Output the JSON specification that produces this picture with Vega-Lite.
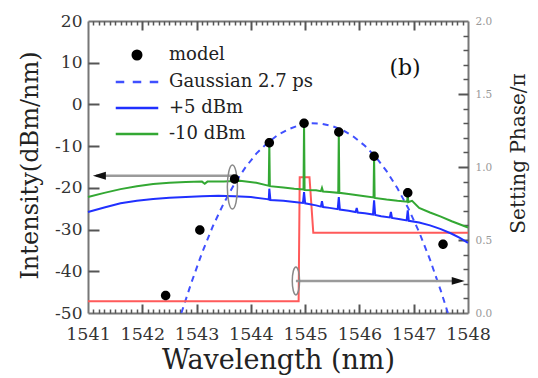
{
  "$schema": "https://vega.github.io/schema/vega-lite/v6.json",
  "width": 380,
  "height": 292,
  "autosize": {"type": "none"},
  "padding": {"left": 88, "top": 21, "right": 70, "bottom": 65},
  "background": "white",
  "config": {
    "view": {"stroke": null},
    "font": "DejaVu Serif",
    "axis": {
      "grid": false,
      "domainColor": "#777",
      "domainWidth": 2,
      "labelFont": "DejaVu Serif",
      "titleFont": "DejaVu Serif",
      "titleFontWeight": "normal",
      "labelColor": "#333",
      "titleColor": "#222",
      "labelFlush": false,
      "labelOverlap": false
    },
    "legend": {
      "labelFont": "DejaVu Serif",
      "labelFontSize": 18,
      "labelColor": "#222"
    }
  },
  "datasets": {
    "model": [
      {"wl": 1542.43, "dbm": -45.8},
      {"wl": 1543.06, "dbm": -30.1},
      {"wl": 1543.70, "dbm": -17.9},
      {"wl": 1544.34, "dbm": -9.2},
      {"wl": 1544.98, "dbm": -4.5},
      {"wl": 1545.62, "dbm": -6.6},
      {"wl": 1546.27, "dbm": -12.4},
      {"wl": 1546.89, "dbm": -21.2},
      {"wl": 1547.54, "dbm": -33.5}
    ],
    "gauss": [
      {"wl": 1542.72, "dbm": -50},
      {"wl": 1542.9, "dbm": -42.9},
      {"wl": 1543.1, "dbm": -35.6},
      {"wl": 1543.3, "dbm": -29.2},
      {"wl": 1543.5, "dbm": -23.7},
      {"wl": 1543.7, "dbm": -19.0},
      {"wl": 1543.9, "dbm": -15.1},
      {"wl": 1544.1, "dbm": -11.8},
      {"wl": 1544.3, "dbm": -9.3},
      {"wl": 1544.5, "dbm": -7.3},
      {"wl": 1544.7, "dbm": -5.9},
      {"wl": 1544.9, "dbm": -4.95},
      {"wl": 1545.1, "dbm": -4.53},
      {"wl": 1545.3, "dbm": -4.6},
      {"wl": 1545.5, "dbm": -5.2},
      {"wl": 1545.7, "dbm": -6.2},
      {"wl": 1545.9, "dbm": -7.8},
      {"wl": 1546.1, "dbm": -9.9},
      {"wl": 1546.3, "dbm": -12.6},
      {"wl": 1546.5, "dbm": -16.0},
      {"wl": 1546.7, "dbm": -20.1},
      {"wl": 1546.9, "dbm": -24.9},
      {"wl": 1547.1, "dbm": -30.6},
      {"wl": 1547.3, "dbm": -37.2},
      {"wl": 1547.5, "dbm": -44.7},
      {"wl": 1547.63, "dbm": -50}
    ],
    "plus5": [
      {"wl": 1541.0, "dbm": -25.8},
      {"wl": 1541.3, "dbm": -24.7},
      {"wl": 1541.6, "dbm": -23.7},
      {"wl": 1541.9, "dbm": -23.1},
      {"wl": 1542.2, "dbm": -22.7},
      {"wl": 1542.5, "dbm": -22.4},
      {"wl": 1542.8, "dbm": -22.2},
      {"wl": 1543.1, "dbm": -22.0},
      {"wl": 1543.4, "dbm": -21.9},
      {"wl": 1543.7, "dbm": -22.0},
      {"wl": 1544.0, "dbm": -22.2},
      {"wl": 1544.3, "dbm": -22.7},
      {"wl": 1544.33, "dbm": -22.8},
      {"wl": 1544.34, "dbm": -20.2},
      {"wl": 1544.36, "dbm": -22.9},
      {"wl": 1544.6, "dbm": -23.1},
      {"wl": 1544.8, "dbm": -23.4},
      {"wl": 1544.96, "dbm": -23.6},
      {"wl": 1544.98, "dbm": -21.0},
      {"wl": 1545.0, "dbm": -23.7},
      {"wl": 1545.2, "dbm": -24.2},
      {"wl": 1545.29, "dbm": -24.5},
      {"wl": 1545.31, "dbm": -23.2},
      {"wl": 1545.33, "dbm": -24.6},
      {"wl": 1545.45, "dbm": -24.8},
      {"wl": 1545.60, "dbm": -25.1},
      {"wl": 1545.62, "dbm": -22.2},
      {"wl": 1545.64, "dbm": -25.2},
      {"wl": 1545.8, "dbm": -25.5},
      {"wl": 1545.93, "dbm": -25.8},
      {"wl": 1545.95, "dbm": -24.8},
      {"wl": 1545.97, "dbm": -25.9},
      {"wl": 1546.1, "dbm": -26.1},
      {"wl": 1546.25, "dbm": -26.4},
      {"wl": 1546.27, "dbm": -23.0},
      {"wl": 1546.29, "dbm": -26.5},
      {"wl": 1546.4, "dbm": -26.8},
      {"wl": 1546.56, "dbm": -27.1},
      {"wl": 1546.58, "dbm": -25.8},
      {"wl": 1546.60, "dbm": -27.2},
      {"wl": 1546.75, "dbm": -27.5},
      {"wl": 1546.87, "dbm": -27.8},
      {"wl": 1546.89, "dbm": -25.4},
      {"wl": 1546.91, "dbm": -27.9},
      {"wl": 1547.1, "dbm": -28.3},
      {"wl": 1547.3, "dbm": -29.0},
      {"wl": 1547.5, "dbm": -29.9},
      {"wl": 1547.7, "dbm": -31.0},
      {"wl": 1547.85, "dbm": -32.0},
      {"wl": 1548.0, "dbm": -33.2}
    ],
    "minus10": [
      {"wl": 1541.0, "dbm": -22.2},
      {"wl": 1541.3, "dbm": -21.2},
      {"wl": 1541.6, "dbm": -20.3},
      {"wl": 1541.9, "dbm": -19.6},
      {"wl": 1542.2, "dbm": -19.1},
      {"wl": 1542.5, "dbm": -18.8},
      {"wl": 1542.8, "dbm": -18.6},
      {"wl": 1543.1, "dbm": -18.5},
      {"wl": 1543.15, "dbm": -19.0},
      {"wl": 1543.2, "dbm": -18.5},
      {"wl": 1543.5, "dbm": -18.5},
      {"wl": 1543.8, "dbm": -18.3},
      {"wl": 1544.1, "dbm": -18.8},
      {"wl": 1544.3, "dbm": -19.4},
      {"wl": 1544.33, "dbm": -19.5},
      {"wl": 1544.34, "dbm": -9.2},
      {"wl": 1544.35, "dbm": -19.6},
      {"wl": 1544.6, "dbm": -19.9},
      {"wl": 1544.8, "dbm": -20.2},
      {"wl": 1544.97, "dbm": -20.4},
      {"wl": 1544.98, "dbm": -4.5},
      {"wl": 1544.99, "dbm": -20.5},
      {"wl": 1545.2, "dbm": -20.6},
      {"wl": 1545.29, "dbm": -20.8},
      {"wl": 1545.31, "dbm": -20.0},
      {"wl": 1545.33, "dbm": -20.9},
      {"wl": 1545.45, "dbm": -21.0},
      {"wl": 1545.61, "dbm": -21.2},
      {"wl": 1545.62, "dbm": -6.6},
      {"wl": 1545.63, "dbm": -21.2},
      {"wl": 1545.8, "dbm": -21.5},
      {"wl": 1546.1, "dbm": -22.0},
      {"wl": 1546.26, "dbm": -22.3},
      {"wl": 1546.27, "dbm": -12.4},
      {"wl": 1546.28, "dbm": -22.4},
      {"wl": 1546.5, "dbm": -22.8},
      {"wl": 1546.7, "dbm": -23.1},
      {"wl": 1546.88, "dbm": -23.3},
      {"wl": 1546.89, "dbm": -21.2},
      {"wl": 1546.90, "dbm": -23.4},
      {"wl": 1546.97, "dbm": -23.1},
      {"wl": 1547.1, "dbm": -24.8},
      {"wl": 1547.3, "dbm": -25.9},
      {"wl": 1547.5, "dbm": -26.9},
      {"wl": 1547.7, "dbm": -28.0},
      {"wl": 1548.0, "dbm": -29.5}
    ],
    "phase": [
      {"wl": 1541.0, "phase": 0.08},
      {"wl": 1544.88, "phase": 0.08},
      {"wl": 1544.9, "phase": 0.93},
      {"wl": 1545.08, "phase": 0.93},
      {"wl": 1545.15, "phase": 0.55},
      {"wl": 1548.0, "phase": 0.55}
    ],
    "arrowL": [
      {"wl": 1541.15, "dbm": -17.1},
      {"wl": 1543.66, "dbm": -17.1}
    ],
    "headL": [{"wl": 1541.21, "dbm": -17.1}],
    "ellL": [{"wl": 1543.66, "dbm": -19.8}],
    "arrowR": [
      {"wl": 1544.83, "phase": 0.22},
      {"wl": 1547.8, "phase": 0.22}
    ],
    "headR": [{"wl": 1547.82, "phase": 0.22}],
    "ellR": [{"wl": 1544.83, "phase": 0.22}],
    "tag": [{"wl": 1546.84, "dbm": 8.8, "text": "(b)"}]
  },
  "layer": [
    {
      "data": {"name": "gauss"},
      "mark": {"type": "line", "color": "#4050ff", "strokeWidth": 2, "strokeDash": [6, 5]},
      "encoding": {
        "x": {
          "field": "wl", "type": "quantitative",
          "scale": {"domain": [1541, 1548], "nice": false, "zero": false},
          "axis": {
            "orient": "bottom",
            "values": [1541, 1542, 1543, 1544, 1545, 1546, 1547, 1548],
            "format": "d",
            "ticks": false,
            "labelPadding": 12,
            "labelFontSize": 17.5,
            "title": "Wavelength (nm)",
            "titleFontSize": 27,
            "titleX": 190,
            "titleY": 55,
            "titleAlign": "center",
            "titleBaseline": "alphabetic"
          }
        },
        "y": {
          "field": "dbm", "type": "quantitative",
          "scale": {"domain": [-50, 20], "nice": false, "zero": false},
          "axis": {
            "orient": "left",
            "values": [-50, -40, -30, -20, -10, 0, 10, 20],
            "labelExpr": "replace(datum.label, '−', '-')",
            "ticks": false,
            "labelPadding": 6,
            "labelFontSize": 17,
            "title": "Intensity(dBm/nm)",
            "titleFontSize": 24,
            "titleAngle": 270,
            "titleX": -58,
            "titleY": 144,
            "titleAlign": "center",
            "titleBaseline": "middle"
          }
        }
      }
    },
    {
      "data": {"name": "phase"},
      "mark": {"type": "line", "color": "#ff5a5a", "strokeWidth": 2},
      "encoding": {
        "x": {
          "field": "wl", "type": "quantitative",
          "scale": {"domain": [1541, 1548], "nice": false, "zero": false},
          "axis": {
            "orient": "top",
            "values": [1541, 1548],
            "ticks": false,
            "labels": false,
            "title": null
          }
        },
        "y": {
          "field": "phase", "type": "quantitative",
          "scale": {"domain": [0, 2], "nice": false, "zero": false},
          "axis": {
            "orient": "right",
            "values": [0, 0.5, 1, 1.5, 2],
            "format": ".1f",
            "ticks": false,
            "labelPadding": 7,
            "labelFontSize": 10.5,
            "labelColor": "#999",
            "title": "Setting Phase/π",
            "titleFontSize": 20,
            "titleAngle": 270,
            "titleX": 50,
            "titleY": 132,
            "titleAlign": "center",
            "titleBaseline": "middle"
          }
        }
      }
    },
    {
      "data": {"name": "minus10"},
      "mark": {"type": "line", "color": "#33a833", "strokeWidth": 2},
      "encoding": {
        "x": {
          "field": "wl", "type": "quantitative",
          "scale": {"domain": [1541, 1548], "nice": false, "zero": false},
          "axis": {
            "orient": "bottom",
            "offset": -9,
            "values": [1542, 1543, 1544, 1545, 1546, 1547],
            "ticks": true,
            "tickSize": 9,
            "tickColor": "#555555",
            "tickWidth": 2,
            "labels": true,
            "labelExpr": "''",
            "domain": false,
            "title": null
          }
        },
        "y": {
          "field": "dbm", "type": "quantitative",
          "scale": {"domain": [-50, 20], "nice": false, "zero": false},
          "axis": {
            "orient": "left",
            "offset": -11,
            "values": [-40, -30, -20, -10, 0, 10],
            "ticks": true,
            "tickSize": 11,
            "tickColor": "#555555",
            "tickWidth": 2,
            "labels": true,
            "labelExpr": "''",
            "domain": false,
            "title": null
          }
        }
      }
    },
    {
      "data": {"name": "plus5"},
      "mark": {"type": "line", "color": "#2030ff", "strokeWidth": 2},
      "encoding": {
        "x": {
          "field": "wl", "type": "quantitative",
          "scale": {"domain": [1541, 1548], "nice": false, "zero": false},
          "axis": {
            "orient": "bottom",
            "offset": -4,
            "values": [1541.1,1541.2,1541.3,1541.4,1541.5,1541.6,1541.7,1541.8,1541.9,1542.1,1542.2,1542.3,1542.4,1542.5,1542.6,1542.7,1542.8,1542.9,1543.1,1543.2,1543.3,1543.4,1543.5,1543.6,1543.7,1543.8,1543.9,1544.1,1544.2,1544.3,1544.4,1544.5,1544.6,1544.7,1544.8,1544.9,1545.1,1545.2,1545.3,1545.4,1545.5,1545.6,1545.7,1545.8,1545.9,1546.1,1546.2,1546.3,1546.4,1546.5,1546.6,1546.7,1546.8,1546.9,1547.1,1547.2,1547.3,1547.4,1547.5,1547.6,1547.7,1547.8,1547.9],
            "ticks": true,
            "tickSize": 4,
            "tickColor": "#555555",
            "tickWidth": 1.5,
            "labels": true,
            "labelExpr": "''",
            "domain": false,
            "title": null
          }
        },
        "y": {
          "field": "dbm", "type": "quantitative",
          "scale": {"domain": [-50, 20], "nice": false, "zero": false},
          "axis": null
        }
      }
    },
    {
      "data": {"name": "arrowL"},
      "mark": {"type": "line", "color": "#9a9a9a", "strokeWidth": 2.5},
      "encoding": {
        "x": {
          "field": "wl", "type": "quantitative",
          "scale": {"domain": [1541, 1548], "nice": false, "zero": false},
          "axis": {
            "orient": "top",
            "offset": -9,
            "values": [1542, 1543, 1544, 1545, 1546, 1547],
            "ticks": true,
            "tickSize": 9,
            "tickColor": "#555555",
            "tickWidth": 2,
            "labels": true,
            "labelExpr": "''",
            "domain": false,
            "title": null
          }
        },
        "y": {"field": "dbm", "type": "quantitative", "scale": {"domain": [-50, 20], "nice": false, "zero": false}, "axis": null}
      }
    },
    {
      "data": {"name": "headL"},
      "mark": {"type": "point", "shape": "M-1,0L1,-0.6L1,0.6Z", "size": 169, "filled": true, "color": "#111", "opacity": 1},
      "encoding": {
        "x": {
          "field": "wl", "type": "quantitative",
          "scale": {"domain": [1541, 1548], "nice": false, "zero": false},
          "axis": {
            "orient": "top",
            "offset": -4,
            "values": [1541.1,1541.2,1541.3,1541.4,1541.5,1541.6,1541.7,1541.8,1541.9,1542.1,1542.2,1542.3,1542.4,1542.5,1542.6,1542.7,1542.8,1542.9,1543.1,1543.2,1543.3,1543.4,1543.5,1543.6,1543.7,1543.8,1543.9,1544.1,1544.2,1544.3,1544.4,1544.5,1544.6,1544.7,1544.8,1544.9,1545.1,1545.2,1545.3,1545.4,1545.5,1545.6,1545.7,1545.8,1545.9,1546.1,1546.2,1546.3,1546.4,1546.5,1546.6,1546.7,1546.8,1546.9,1547.1,1547.2,1547.3,1547.4,1547.5,1547.6,1547.7,1547.8,1547.9],
            "ticks": true,
            "tickSize": 4,
            "tickColor": "#555555",
            "tickWidth": 1.5,
            "labels": true,
            "labelExpr": "''",
            "domain": false,
            "title": null
          }
        },
        "y": {"field": "dbm", "type": "quantitative", "scale": {"domain": [-50, 20], "nice": false, "zero": false}, "axis": null}
      }
    },
    {
      "data": {"name": "ellL"},
      "mark": {"type": "point", "shape": "M0,-1C0.127,-1,0.23,-0.552,0.23,0C0.23,0.552,0.127,1,0,1C-0.127,1,-0.23,0.552,-0.23,0C-0.23,-0.552,-0.127,-1,0,-1Z", "size": 1936, "filled": false, "color": "#888", "strokeWidth": 1.5, "opacity": 1},
      "encoding": {
        "x": {"field": "wl", "type": "quantitative", "scale": {"domain": [1541, 1548], "nice": false, "zero": false}, "axis": null},
        "y": {"field": "dbm", "type": "quantitative", "scale": {"domain": [-50, 20], "nice": false, "zero": false}, "axis": null}
      }
    },
    {
      "data": {"name": "arrowR"},
      "mark": {"type": "line", "color": "#9a9a9a", "strokeWidth": 2.5},
      "encoding": {
        "x": {"field": "wl", "type": "quantitative", "scale": {"domain": [1541, 1548], "nice": false, "zero": false}, "axis": null},
        "y": {
          "field": "phase", "type": "quantitative",
          "scale": {"domain": [0, 2], "nice": false, "zero": false},
          "axis": {
            "orient": "right",
            "offset": -10,
            "values": [0.5, 1, 1.5],
            "ticks": true,
            "tickSize": 10,
            "tickColor": "#555555",
            "tickWidth": 2,
            "labels": true,
            "labelExpr": "''",
            "domain": false,
            "title": null
          }
        }
      }
    },
    {
      "data": {"name": "headR"},
      "mark": {"type": "point", "shape": "M1,0L-1,-0.6L-1,0.6Z", "size": 169, "filled": true, "color": "#111", "opacity": 1},
      "encoding": {
        "x": {"field": "wl", "type": "quantitative", "scale": {"domain": [1541, 1548], "nice": false, "zero": false}, "axis": null},
        "y": {
          "field": "phase", "type": "quantitative",
          "scale": {"domain": [0, 2], "nice": false, "zero": false},
          "axis": {
            "orient": "right",
            "offset": -5,
            "values": [0.1,0.2,0.3,0.4,0.6,0.7,0.8,0.9,1.1,1.2,1.3,1.4,1.6,1.7,1.8,1.9],
            "ticks": true,
            "tickSize": 5,
            "tickColor": "#555555",
            "tickWidth": 1.5,
            "labels": true,
            "labelExpr": "''",
            "domain": false,
            "title": null
          }
        }
      }
    },
    {
      "data": {"name": "ellR"},
      "mark": {"type": "point", "shape": "M0,-1C0.144,-1,0.26,-0.552,0.26,0C0.26,0.552,0.144,1,0,1C-0.144,1,-0.26,0.552,-0.26,0C-0.26,-0.552,-0.144,-1,0,-1Z", "size": 784, "filled": false, "color": "#888", "strokeWidth": 1.5, "opacity": 1},
      "encoding": {
        "x": {"field": "wl", "type": "quantitative", "scale": {"domain": [1541, 1548], "nice": false, "zero": false}, "axis": null},
        "y": {"field": "phase", "type": "quantitative", "scale": {"domain": [0, 2], "nice": false, "zero": false}, "axis": null}
      }
    },
    {
      "data": {"name": "model"},
      "mark": {"type": "point", "size": 360, "filled": true, "opacity": 1},
      "encoding": {
        "x": {"field": "wl", "type": "quantitative", "scale": {"domain": [1541, 1548], "nice": false, "zero": false}, "axis": null},
        "y": {"field": "dbm", "type": "quantitative", "scale": {"domain": [-50, 20], "nice": false, "zero": false}, "axis": null},
        "color": {
          "datum": "model", "type": "nominal",
          "scale": {"domain": ["model", "Gaussian 2.7 ps", "+5 dBm", "-10 dBm"], "range": ["#000000", "#4050ff", "#2030ff", "#33a833"]},
          "legend": {
            "orient": "none",
            "legendX": 39,
            "legendY": 24,
            "title": null,
            "padding": 0,
            "symbolSize": 289,
            "symbolStrokeWidth": 2.5,
            "symbolOpacity": 1,
            "labelOffset": 22,
            "rowPadding": 7,
            "labelFont": "DejaVu Serif",
            "labelFontSize": 18,
            "labelColor": "#222",
            "encode": {
              "symbols": {
                "update": {
                  "fill": {"scale": "color", "field": "value"},
                  "stroke": {"scale": "color", "field": "value"},
                  "strokeWidth": {"value": 2.5},
                  "opacity": {"value": 1}
                }
              }
            }
          }
        },
        "shape": {
          "datum": "model", "type": "nominal",
          "scale": {"domain": ["model", "Gaussian 2.7 ps", "+5 dBm", "-10 dBm"], "range": ["M0,-0.5C0.276,-0.5,0.5,-0.276,0.5,0C0.5,0.276,0.276,0.5,0,0.5C-0.276,0.5,-0.5,0.276,-0.5,0C-0.5,-0.276,-0.276,-0.5,0,-0.5Z", "M-2.5,0H-1.5M-0.5,0H0.5M1.5,0H2.5", "M-2.5,0H2.5", "M-2.5,0H2.5"]},
          "legend": {
            "orient": "none",
            "legendX": 39,
            "legendY": 24,
            "title": null,
            "padding": 0,
            "symbolSize": 289,
            "symbolStrokeWidth": 2.5,
            "symbolOpacity": 1,
            "labelOffset": 22,
            "rowPadding": 7,
            "labelFont": "DejaVu Serif",
            "labelFontSize": 18,
            "labelColor": "#222",
            "encode": {
              "symbols": {
                "update": {
                  "fill": {"scale": "color", "field": "value"},
                  "stroke": {"scale": "color", "field": "value"},
                  "strokeWidth": {"value": 2.5},
                  "opacity": {"value": 1}
                }
              }
            }
          }
        }
      }
    },
    {
      "data": {"name": "tag"},
      "mark": {"type": "text", "font": "DejaVu Serif", "fontSize": 22, "color": "#111", "align": "center", "baseline": "middle"},
      "encoding": {
        "x": {"field": "wl", "type": "quantitative", "scale": {"domain": [1541, 1548], "nice": false, "zero": false}, "axis": null},
        "y": {"field": "dbm", "type": "quantitative", "scale": {"domain": [-50, 20], "nice": false, "zero": false}, "axis": null},
        "text": {"field": "text"}
      }
    }
  ],
  "resolve": {
    "scale": {"y": "independent"},
    "axis": {"x": "independent", "y": "independent"}
  }
}
